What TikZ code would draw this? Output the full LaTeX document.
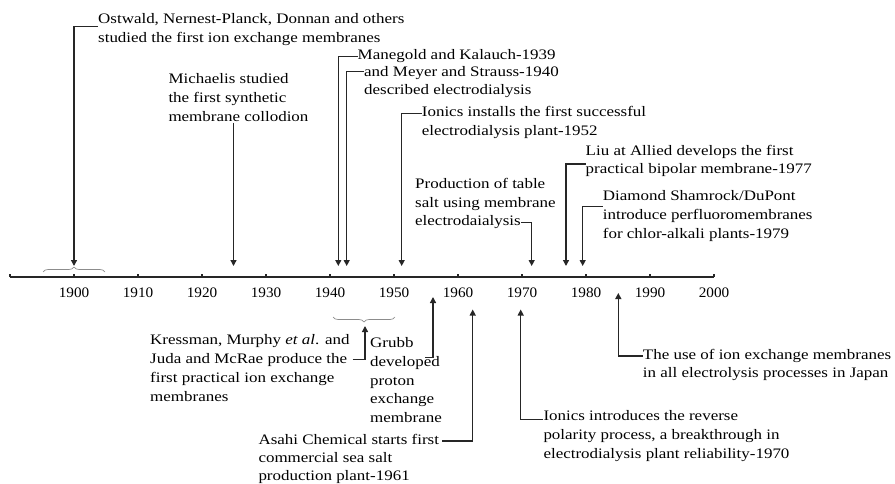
\documentclass[tikz,border=0pt]{standalone}
\usepackage{fontspec}
\setmainfont[FakeStretch=1.17]{Liberation Serif}
\newfontfamily\yearfont[FakeStretch=1.05]{Liberation Serif}
\usetikzlibrary{arrows.meta,calc,decorations.pathreplacing}
\begin{document}
\begin{tikzpicture}[x=1pt,y=-1pt,
  lbl/.style={anchor=north west,inner sep=0pt,align=left,font=\fontsize{14.5}{18.8}\selectfont},
  yr/.style={anchor=base,inner sep=0pt,font=\yearfont\fontsize{14.5}{17}\selectfont},
  arr/.style={line width=1.3pt,draw=black!85,-{Triangle[length=6pt,width=6pt]}},
  axisline/.style={line width=1.4pt,draw=black!85},
  brc/.style={draw=black!45,line width=0.7pt,decorate,decoration={brace,amplitude=5pt}}]
\useasboundingbox (0,0) rectangle (895,484);
% axis
\draw[axisline] (10,277) -- (714,277);
\foreach \i in {0,...,11}{
  \draw[axisline,line width=1.2pt] ({10+64*\i},277) -- ({10+64*\i},273.5);
}
\foreach \y/\x in {1900/74,1910/138,1920/202,1930/266,1940/330,1950/394,1960/458,1970/522,1980/586,1990/650,2000/714}{
  \node[yr] (y\y) at (\x,297.5) {\y};
}
% braces
\draw[brc] (43,272) -- (105,272);
\draw[brc] (395,317) -- (333,317);
% arrow tips
\coordinate (t1900) at (74,266);
\coordinate (t1925) at (233.5,266);
\coordinate (t1939) at (338.3,266);
\coordinate (t1940) at (346.7,266);
\coordinate (t1952) at (401.7,266);
\coordinate (t1972) at (531.7,266);
\coordinate (t1977) at (566,266);
\coordinate (t1979) at (582.7,266);
\coordinate (t1945) at (365,326);
\coordinate (t1956) at (433,297);
\coordinate (t1961) at (472.7,309.5);
\coordinate (t1970) at (520.7,309.5);
\coordinate (t1985) at (618.3,293);
% labels above
\node[lbl] (ost) at (98,13) {Ostwald, Nernest-Planck, Donnan and others\\studied the first ion exchange membranes};
\node[lbl] (mich) at (168.3,73.5) {Michaelis studied\\the first synthetic\\membrane collodion};
\node[lbl] (man1) at (357.5,49.7) {Manegold and Kalauch-1939};
\node[lbl,font=\fontsize{14.5}{17.4}\selectfont] (man2) at (364,66.4) {and Meyer and Strauss-1940\\described electrodialysis};
\node[lbl] (ion52) at (421.7,106.4) {Ionics installs the first successful\\electrodialysis plant-1952};
\node[lbl] (prod) at (415,178) {Production of table\\salt using membrane};
\node[lbl] (prod3) at (415,215.4) {electrodaialysis};
\node[lbl] (liu) at (585.5,144.7) {Liu at Allied develops the first\\practical bipolar membrane-1977};
\node[lbl] (dia) at (602.7,190.4) {Diamond Shamrock/DuPont\\introduce perfluoromembranes\\for chlor-alkali plants-1979};
% labels below
\node[lbl] (kress) at (150,334.4) {Kressman, Murphy \textit{et al}. and\\Juda and McRae produce the\\first practical ion exchange\\membranes};
\node[lbl,font=\fontsize{14.5}{18.6}\selectfont] (grubb) at (370,337.7) {Grubb\\developed\\proton\\exchange\\membrane};
\node[lbl,font=\fontsize{14.5}{18.4}\selectfont] (asahi) at (258.3,433.6) {Asahi Chemical starts first\\commercial sea salt\\production plant-1961};
\node[lbl] (ion70) at (543.3,410.4) {Ionics introduces the reverse\\polarity process, a breakthrough in\\electrodialysis plant reliability-1970};
\node[lbl] (jap) at (642.7,348.7) {The use of ion exchange membranes\\in all electrolysis processes in Japan};
% connector start points
\coordinate (cost) at ($(ost.north west)+(0,13.7)$);
\coordinate (cmich) at ($(mich.south west)+(65.2,1)$);
\coordinate (cman1) at ($(man1.north west)+(0,7)$);
\coordinate (cman2) at ($(man2.north west)+(0,5.3)$);
\coordinate (cion52) at ($(ion52.north west)+(0,7)$);
\coordinate (cliu) at ($(liu.north west)+(0,19.3)$);
\coordinate (cdia) at ($(dia.north west)+(0,16.3)$);
\coordinate (ckress) at ($(kress.north east)+(3,25)$);
\coordinate (cgrubb) at ($(grubb.north west)+(55,19.6)$);
\coordinate (casahi) at ($(asahi.north east)+(3,7.5)$);
\coordinate (cion70) at ($(ion70.north west)+(0,9)$);
\coordinate (cjap) at ($(jap.north west)+(0,7.3)$);
% connectors
\draw[arr] (cost) -| (t1900);
\draw[arr] (cmich) -- (t1925);
\draw[arr] (cman1) -| (t1939);
\draw[arr] (cman2) -| (t1940);
\draw[arr] (cion52) -| (t1952);
\draw[arr] (prod3.east) -| (t1972);
\draw[arr] (cliu) -| (t1977);
\draw[arr] (cdia) -| (t1979);
\draw[arr] (ckress) -| (t1945);
\draw[arr] (cgrubb) -| (t1956);
\draw[arr] (casahi) -| (t1961);
\draw[arr] (cion70) -| (t1970);
\draw[arr] (cjap) -| (t1985);
\end{tikzpicture}
\end{document}
